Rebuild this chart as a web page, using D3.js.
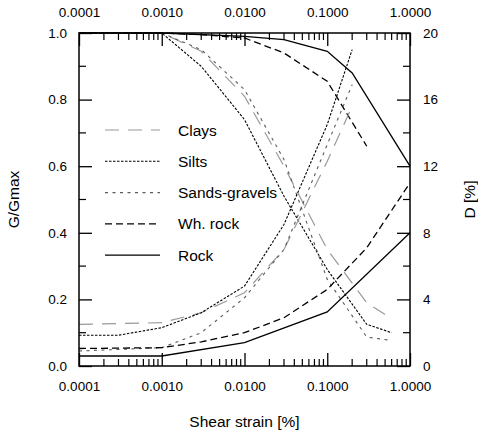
<!DOCTYPE html>
<html>
<head>
<meta charset="utf-8">
<script src="https://cdn.jsdelivr.net/npm/d3@7"></script>
<style>
  body { margin: 0; background: #fff; }
  svg text { font-family: "Liberation Sans", Arial, Helvetica, sans-serif; fill: #000; }
</style>
</head>
<body>
<svg id="chart" width="478" height="432"></svg>
<script>
// shear strain [%] values where each curve has a vertex
const claysGStrain = [0.0001, 0.001, 0.003, 0.01, 0.03, 0.1, 0.3, 0.5];
const claysG = [1.0, 1.0, 0.945, 0.81, 0.60, 0.35, 0.19, 0.155];
const claysDStrain = [0.0001, 0.001, 0.003, 0.01, 0.03, 0.1, 0.2];
const claysD = [2.5, 2.6, 3.2, 4.4, 7.0, 12.3, 15.6];

const siltsGStrain = [0.0001, 0.001, 0.003, 0.01, 0.03, 0.1, 0.3, 0.6];
const siltsG = [1.0, 1.0, 0.90, 0.74, 0.51, 0.29, 0.125, 0.10];
const siltsDStrain = [0.0001, 0.0003, 0.001, 0.003, 0.01, 0.03, 0.1, 0.2];
const siltsD = [1.85, 1.85, 2.3, 3.2, 4.8, 8.5, 14.5, 19.0];

const sandsGStrain = [0.0001, 0.001, 0.003, 0.01, 0.03, 0.1, 0.3, 0.55];
const sandsG = [1.0, 1.0, 0.95, 0.83, 0.62, 0.26, 0.087, 0.078];
const sandsDStrain = [0.0001, 0.001, 0.003, 0.01, 0.03, 0.1, 0.2];
const sandsD = [0.9, 1.1, 2.0, 4.1, 7.0, 13.3, 16.9];

const whRockGStrain = [0.0001, 0.001, 0.003, 0.01, 0.03, 0.1, 0.3];
const whRockG = [1.0, 1.0, 0.995, 0.985, 0.94, 0.855, 0.66];
const whRockDStrain = [0.0001, 0.001, 0.003, 0.01, 0.03, 0.1, 0.3, 1];
const whRockD = [1.05, 1.1, 1.45, 2.0, 2.9, 4.6, 7.1, 11.0];

const rockGStrain = [0.0001, 0.001, 0.01, 0.03, 0.1, 0.2, 1];
const rockG = [1.0, 1.0, 0.99, 0.98, 0.945, 0.88, 0.6];
const rockDStrain = [0.0001, 0.001, 0.01, 0.1, 1];
const rockD = [0.6, 0.6, 1.4, 3.25, 8.0];

const seriesNames = ['Clays', 'Silts', 'Sands-gravels', 'Wh. rock', 'Rock'];
const strainTicks = [0.0001, 0.001, 0.01, 0.1, 1];
const gTicks = [0, 0.2, 0.4, 0.6, 0.8, 1.0];
const dTicks = [0, 4, 8, 12, 16, 20];

// line look per series (same order as seriesNames)
const styles = [
  { color: '#9a9a9a', dash: '14,9', width: 1.2 },
  { color: '#000', dash: '2.5,1.5', width: 1.1 },
  { color: '#5a5a5a', dash: '3,4.5', width: 1.1 },
  { color: '#000', dash: '7,4', width: 1.3 },
  { color: '#000', dash: null, width: 1.3 }
];

const gCurves = [
  [claysGStrain, claysG], [siltsGStrain, siltsG], [sandsGStrain, sandsG],
  [whRockGStrain, whRockG], [rockGStrain, rockG]
];
const dCurves = [
  [claysDStrain, claysD], [siltsDStrain, siltsD], [sandsDStrain, sandsD],
  [whRockDStrain, whRockD], [rockDStrain, rockD]
];

const svg = d3.select('#chart');
const x0 = 79, x1 = 410, y0 = 366, y1 = 33;

const x = d3.scaleLog().domain([0.0001, 1]).range([x0, x1]);
const yG = d3.scaleLinear().domain([0, 1]).range([y0, y1]);
const yD = d3.scaleLinear().domain([0, 20]).range([y0, y1]);

// minor ticks: 2..9 in every decade
const minorStrain = [];
strainTicks.slice(0, -1).forEach(d => {
  for (let k = 2; k <= 9; k++) minorStrain.push(d * k);
});
const minorG = d3.range(0.1, 1, 0.2);
const minorD = d3.range(2, 20, 4);

const fmtStrain = d3.format('.4f');

function styleAxis(g) {
  g.select('.domain').remove();
  g.selectAll('line').attr('stroke', '#000').attr('stroke-width', 1.3);
  g.selectAll('text').attr('font-size', 13.5).attr('font-family', null);
}

// major ticks (inward) with labels
svg.append('g').attr('transform', `translate(0,${y0})`)
  .call(d3.axisBottom(x).tickValues(strainTicks).tickFormat(fmtStrain).tickSize(-13).tickPadding(15.5))
  .call(styleAxis);
svg.append('g').attr('transform', `translate(0,${y1})`)
  .call(d3.axisTop(x).tickValues(strainTicks).tickFormat(fmtStrain).tickSize(-13).tickPadding(16))
  .call(styleAxis);
svg.append('g').attr('transform', `translate(${x0},0)`)
  .call(d3.axisLeft(yG).tickValues(gTicks).tickFormat(d3.format('.1f')).tickSize(-13).tickPadding(12))
  .call(styleAxis);
svg.append('g').attr('transform', `translate(${x1},0)`)
  .call(d3.axisRight(yD).tickValues(dTicks).tickFormat(d3.format('d')).tickSize(-13).tickPadding(13))
  .call(styleAxis);

// minor ticks, short and inward
const minor = svg.append('g').attr('stroke', '#000').attr('stroke-width', 1.2);
minorStrain.forEach(s => {
  minor.append('line').attr('x1', x(s)).attr('x2', x(s)).attr('y1', y0).attr('y2', y0 - 7);
  minor.append('line').attr('x1', x(s)).attr('x2', x(s)).attr('y1', y1).attr('y2', y1 + 7);
});
minorG.forEach(v => {
  minor.append('line').attr('x1', x0).attr('x2', x0 + 7).attr('y1', yG(v)).attr('y2', yG(v));
});
minorD.forEach(v => {
  minor.append('line').attr('x1', x1).attr('x2', x1 - 7).attr('y1', yD(v)).attr('y2', yD(v));
});

// curves
const plot = svg.append('g');

function drawCurve(pair, yScale, style) {
  const pts = pair[0].map((s, i) => [s, pair[1][i]]);
  const line = d3.line().x(d => x(d[0])).y(d => yScale(d[1]));
  plot.append('path')
    .attr('d', line(pts))
    .attr('fill', 'none')
    .attr('stroke', style.color)
    .attr('stroke-width', style.width)
    .attr('stroke-dasharray', style.dash);
}

gCurves.forEach((c, i) => drawCurve(c, yG, styles[i]));
dCurves.forEach((c, i) => drawCurve(c, yD, styles[i]));

// frame
svg.append('rect')
  .attr('x', x0).attr('y', y1)
  .attr('width', x1 - x0).attr('height', y0 - y1)
  .attr('fill', 'none').attr('stroke', '#000').attr('stroke-width', 1.5);

// legend
const legend = svg.append('g');
seriesNames.forEach((name, i) => {
  const ly = 130 + i * 31.3;
  const st = styles[i];
  legend.append('line')
    .attr('x1', 105).attr('x2', 160).attr('y1', ly).attr('y2', ly)
    .attr('stroke', st.color).attr('stroke-width', st.width)
    .attr('stroke-dasharray', st.dash);
  legend.append('text')
    .attr('x', 178).attr('y', ly + 5.5)
    .attr('font-size', 15.5)
    .text(name);
});

// axis titles
svg.append('text')
  .attr('x', (x0 + x1) / 2).attr('y', 427)
  .attr('text-anchor', 'middle').attr('font-size', 15.5)
  .text('Shear strain [%]');

svg.append('text')
  .attr('transform', `translate(19,${(y0 + y1) / 2}) rotate(-90)`)
  .attr('text-anchor', 'middle').attr('font-size', 15.5)
  .text('G/Gmax');

svg.append('text')
  .attr('transform', `translate(475,${(y0 + y1) / 2}) rotate(-90)`)
  .attr('text-anchor', 'middle').attr('font-size', 15.5)
  .text('D [%]');
</script>
</body>
</html>
